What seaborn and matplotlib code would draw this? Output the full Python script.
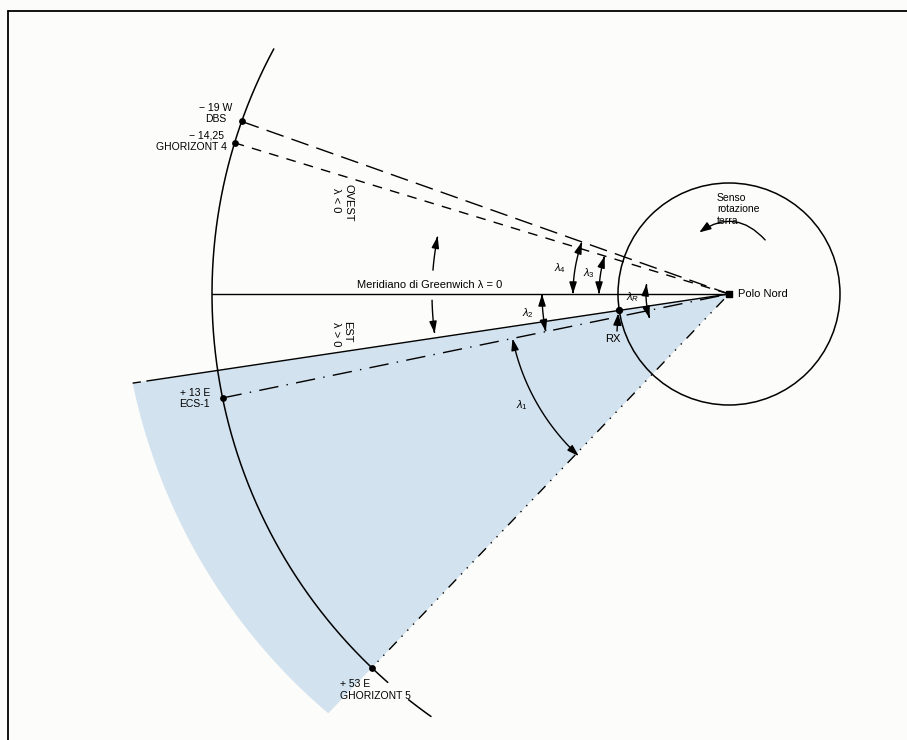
import numpy as np
import pandas as pd
import matplotlib
matplotlib.use("Agg")
import matplotlib.pyplot as plt
import seaborn as sns
from matplotlib.patches import FancyArrowPatch, Polygon, Circle
from matplotlib.path import Path

sns.set_theme(style="white")
plt.rcParams['font.family'] = ['Liberation Sans', 'DejaVu Sans']
plt.rcParams['text.color'] = 'black'
plt.rcParams['mathtext.fontset'] = 'custom'
plt.rcParams['mathtext.rm'] = 'Liberation Sans'
plt.rcParams['mathtext.it'] = 'Liberation Sans:italic'
plt.rcParams['lines.scale_dashes'] = False

# satellites on the geostationary arc (angle as drawn, degrees from Greenwich, + = east)
sat_names = ["DBS", "GHORIZONT 4", "ECS-1", "GHORIZONT 5"]
sat_longitudes = ["\u2212 19 W", "\u2212 14,25", "+ 13 E", "+ 53 E"]
sat_angles = [-19.5, -17.0, 11.6, 46.3]
rx_angle = 8.5

# angle markers: label, radius, start angle, end angle
angle_labels = [r"$\lambda_4$", r"$\lambda_3$", r"$\lambda_2$", r"$\lambda_1$", r"$\lambda_R$"]
angle_radii = [156, 130, 187, 221, 83]
angle_from = [-19.5, -17.0, 0.0, 11.6, -7.0]
angle_to = [0.0, 0.0, 11.6, 47.2, 17.0]

POLE = (729, 294)
ORBIT_R = 517
EARTH_R = 111
BLUE = "#d2e2ee"


def polar(r, theta):
    t = np.radians(theta)
    return POLE[0] - r * np.cos(t), POLE[1] + r * np.sin(t)


def arc_arrow(ax, r, t0, t1, style="<|-|>"):
    th = np.linspace(t0, t1, 40)
    xs, ys = polar(r, th)
    path = Path(np.column_stack([xs, ys]))
    ax.add_patch(FancyArrowPatch(path=path, arrowstyle=style + ",head_length=0.7,head_width=0.22",
                                 mutation_scale=10, color="black", lw=1.0, zorder=4))


fig = plt.figure(figsize=(9.07, 7.40), dpi=100)
fig.patch.set_facecolor("#fcfcfa")
ax = fig.add_axes([0, 0, 1, 1])
ax.set_xlim(0, 907)
ax.set_ylim(740, 0)
ax.set_aspect("equal")
ax.axis("off")

# frame
ax.plot([8, 907], [11, 11], color="black", lw=1.3)
ax.plot([8, 8], [11, 740], color="black", lw=1.3)

# blue receiving sector (between RX line and the GHORIZONT 5 line)
th = np.linspace(rx_angle, sat_angles[3], 60)
r_out = np.linspace(603, 580, 60)
bx, by = polar(r_out, th)
ax.add_patch(Polygon(np.column_stack([np.r_[POLE[0], bx], np.r_[POLE[1], by]]),
                     closed=True, facecolor=BLUE, edgecolor="none", zorder=0))

# geostationary orbit arc
for t0, t1 in [(-28.3, 48.7), (51.7, 54.8)]:
    th = np.linspace(t0, t1, 200)
    ox, oy = polar(ORBIT_R, th)
    sns.lineplot(x=ox, y=oy, sort=False, estimator=None, color="black", lw=1.1, ax=ax)

# earth seen from the north pole
ax.add_patch(Circle(POLE, EARTH_R, fill=False, color="black", lw=1.1, zorder=3))

# Greenwich meridian
mx, my = polar(ORBIT_R, 0)
ax.plot([mx, POLE[0]], [my, POLE[1]], color="black", lw=1.0)

# RX direction
rx0 = polar(585, rx_angle)
rx1 = polar(603, rx_angle)
ax.plot([rx0[0], POLE[0]], [rx0[1], POLE[1]], color="black", lw=1.0)
ax.plot([rx1[0], rx0[0]], [rx1[1], rx0[1]], color="black", lw=1.0, ls=(0, (6, 4)))

# lines of sight to the satellites
sat_styles = [(0, (13, 6)), (0, (7, 6)), (0, (14, 6, 1, 6)), (0, (1, 5, 1, 5, 1, 5, 8, 5))]
for ang, style in zip(sat_angles, sat_styles):
    sx, sy = polar(ORBIT_R, ang)
    ax.plot([sx, POLE[0]], [sy, POLE[1]], color="black", lw=1.0, ls=style)

sxs, sys_ = polar(ORBIT_R, np.array(sat_angles))
sns.scatterplot(x=sxs, y=sys_, color="black", s=24, linewidth=0, zorder=5, ax=ax)
rxx, rxy = polar(EARTH_R, rx_angle)
ax.scatter([rxx], [rxy], color="black", s=18, zorder=5)
ax.scatter([POLE[0]], [POLE[1]], color="black", marker="s", s=22, zorder=5)

# satellite labels
lab_pos = [(216, 108, 216, 119, "center"), (224, 136, 227, 147, "right"),
           (210, 393, 210, 404, "right"), (340, 684, 340, 696, "left")]
for (x1, y1, x2, y2, ha), lon, name in zip(lab_pos, sat_longitudes, sat_names):
    ax.text(x1, y1, lon, fontsize=7.5, ha=ha, va="center")
    ax.text(x2, y2, name, fontsize=7.5, ha=ha, va="center")

# angle markers
lab_xy = [(560, 268), (589, 273), (528, 313), (522, 405), (633, 297)]
for lab, r, t0, t1, (lx, ly) in zip(angle_labels, angle_radii, angle_from, angle_to, lab_xy):
    arc_arrow(ax, r, t0, t1)
    ax.text(lx, ly, lab, fontsize=8, ha="center", va="center")

# west / east arrows
arc_arrow(ax, 297, -4.6, -11.2, "-|>")
arc_arrow(ax, 297, 1.2, 7.6, "-|>")

ax.text(430, 285, "Meridiano di Greenwich \u03bb = 0", fontsize=8, ha="center", va="center")
ax.text(348, 203, "OVEST", fontsize=8, rotation=270, ha="center", va="center")
ax.text(336, 200, "\u03bb < 0", fontsize=8, rotation=270, ha="center", va="center")
ax.text(347, 332, "EST", fontsize=8, rotation=270, ha="center", va="center")
ax.text(336, 334, "\u03bb > 0", fontsize=8, rotation=270, ha="center", va="center")

ax.text(738, 294, "Polo Nord", fontsize=8, ha="left", va="center")
ax.text(717, 198, "Senso", fontsize=7.5, ha="left", va="center")
ax.text(717, 209, "rotazione", fontsize=7.5, ha="left", va="center")
ax.text(717, 221, "terra", fontsize=7.5, ha="left", va="center")
ax.add_patch(FancyArrowPatch((767, 242), (697, 234), connectionstyle="arc3,rad=0.46",
                             arrowstyle="-|>,head_length=0.7,head_width=0.25",
                             mutation_scale=10, color="black", lw=1.0))

ax.text(613, 339, "RX", fontsize=8, ha="center", va="center")
ax.add_patch(FancyArrowPatch((617, 331), (rxx - 1, rxy + 3), arrowstyle="-|>,head_length=0.7,head_width=0.25",
                             mutation_scale=10, color="black", lw=1.0, shrinkA=0, shrinkB=0))

fig.savefig("out.png", dpi=100, facecolor=fig.get_facecolor())
plt.close(fig)
